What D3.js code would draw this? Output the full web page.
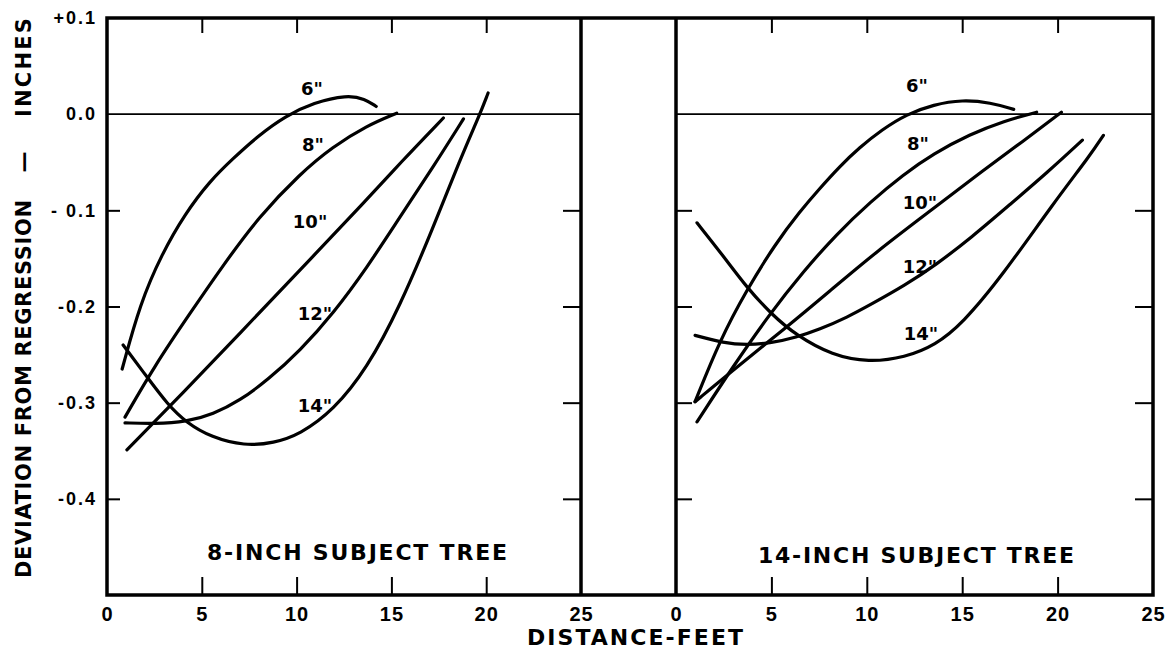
<!DOCTYPE html>
<html>
<head>
<meta charset="utf-8">
<script src="https://cdn.jsdelivr.net/npm/d3@7"></script>
<style>
  body { margin: 0; background: #fff; }
  svg { display: block; font-family: "DejaVu Sans", Verdana, sans-serif; font-weight: bold; }
  svg text { fill: #000; }
</style>
</head>
<body>
<svg id="chart" width="1176" height="651"></svg>
<script>
// axis ticks
var xTicks = [0, 5, 10, 15, 20, 25];
var xInnerTicks = [5, 10, 15, 20];
var yTicks = [0.1, 0, -0.1, -0.2, -0.3, -0.4];
var yTickLabels = ['+0.1', '0.0', '- 0.1', '-0.2', '-0.3', '-0.4'];
var yInnerTicks = [-0.1, -0.2, -0.3, -0.4];

var sizeLabels = ['6"', '8"', '10"', '12"', '14"'];
var panelTitles = ['8-INCH SUBJECT TREE', '14-INCH SUBJECT TREE'];

// 8-inch subject tree: [distance ft, deviation in]
var tree8_6 = [[0.8,-0.265],[1.74,-0.197],[2.9,-0.145],[4.1,-0.104],[5.4,-0.07],[6.65,-0.046],[8.0,-0.022],[9.4,-0.002],[10.9,0.012],[12.66,0.02],[13.6,0.016],[14.2,0.008]];
var tree8_8 = [[0.95,-0.315],[2.5,-0.262],[4.38,-0.207],[6.2,-0.155],[8.0,-0.107],[10.18,-0.062],[11.9,-0.034],[13.7,-0.012],[15.28,0.001]];
var tree8_10 = [[1.05,-0.349],[4,-0.29],[7,-0.228],[10.18,-0.162],[13.7,-0.089],[15.45,-0.051],[17.74,-0.004]];
var tree8_12 = [[0.95,-0.321],[2.5,-0.322],[4.2,-0.32],[5.6,-0.312],[7.0,-0.298],[8.5,-0.276],[10.18,-0.246],[11.94,-0.207],[13.7,-0.16],[15.45,-0.107],[17.2,-0.055],[18.8,-0.005]];
var tree8_14 = [[0.85,-0.24],[2.1,-0.273],[3.2,-0.302],[4.2,-0.321],[5.5,-0.336],[7.25,-0.345],[8.8,-0.342],[10.18,-0.333],[11.94,-0.308],[13.7,-0.265],[15.45,-0.2],[17.2,-0.118],[18.6,-0.048],[19.67,0],[20.1,0.022]];

// 14-inch subject tree
var tree14_6 = [[1.0,-0.299],[2.3,-0.235],[3.7,-0.183],[5.2,-0.135],[6.5,-0.101],[7.5,-0.078],[8.6,-0.054],[9.6,-0.035],[10.8,-0.016],[12.1,0],[13.5,0.01],[15,0.015],[16.5,0.012],[17.7,0.005]];
var tree14_8 = [[1.1,-0.32],[3,-0.262],[4.9,-0.208],[6.7,-0.163],[8.4,-0.125],[10.2,-0.091],[11.9,-0.063],[13.5,-0.041],[15.4,-0.021],[17.2,-0.007],[18.9,0.002]];
var tree14_10 = [[1.0,-0.299],[3,-0.266],[5.77,-0.222],[8,-0.185],[10.5,-0.143],[13.5,-0.098],[16,-0.06],[18.2,-0.028],[20.2,0.002]];
var tree14_12 = [[1.0,-0.23],[2.5,-0.238],[3.7,-0.24],[5,-0.238],[6.3,-0.232],[7.5,-0.224],[9,-0.211],[10.2,-0.198],[12,-0.178],[13.6,-0.157],[15.5,-0.128],[17.5,-0.094],[19.5,-0.06],[21.3,-0.027]];
var tree14_14 = [[1.1,-0.113],[2.5,-0.148],[3.7,-0.18],[5.0,-0.208],[6.3,-0.23],[8.2,-0.251],[10.1,-0.258],[12,-0.253],[13.6,-0.24],[15,-0.218],[17.1,-0.168],[19.8,-0.092],[21.7,-0.043],[22.4,-0.022]];

// where the size labels sit, in data units
var labelAt8 = [[10.81,0.027],[10.86,-0.032],[10.71,-0.112],[10.97,-0.207],[10.97,-0.303]];
var labelAt14 = [[12.63,0.030],[12.68,-0.031],[12.79,-0.092],[12.79,-0.158],[12.84,-0.228]];

var svg = d3.select('#chart');
var plotTop = 18, plotBottom = 595;

var y = d3.scaleLinear().domain([-0.5, 0.1]).range([plotBottom, plotTop]);

var panels = [
  { left: 107, right: 581, curves: [tree8_6, tree8_8, tree8_10, tree8_12, tree8_14], labels: labelAt8, title: panelTitles[0], titleX: 357, titleW: 300, titleY: 560 },
  { left: 676, right: 1153, curves: [tree14_6, tree14_8, tree14_10, tree14_12, tree14_14], labels: labelAt14, title: panelTitles[1], titleX: 916, titleW: 316, titleY: 563 }
];

function drawPanel(p, i) {
  var x = d3.scaleLinear().domain([0, 25]).range([p.left, p.right]);
  var g = svg.append('g');

  // zero line
  g.append('line')
    .attr('x1', x(0)).attr('x2', x(25))
    .attr('y1', y(0)).attr('y2', y(0))
    .attr('stroke', '#000').attr('stroke-width', 1.7);

  // bottom axis with labels, ticks point inward
  var bAxis = g.append('g')
    .attr('transform', 'translate(0,' + plotBottom + ')')
    .call(d3.axisBottom(x).tickValues(xTicks).tickSizeInner(-18).tickSizeOuter(0).tickPadding(12));
  bAxis.select('.domain').remove();
  bAxis.selectAll('.tick line').filter(function(d) { return d === 0 || d === 25; }).remove();
  bAxis.selectAll('.tick line').attr('stroke-width', 2);
  bAxis.selectAll('text').attr('font-size', 20).attr('font-weight', 'bold').attr('letter-spacing', 1);

  // top ticks
  var tAxis = g.append('g')
    .attr('transform', 'translate(0,' + plotTop + ')')
    .call(d3.axisTop(x).tickValues(xInnerTicks).tickSizeInner(-15).tickSizeOuter(0).tickFormat(''));
  tAxis.select('.domain').remove();
  tAxis.selectAll('.tick line').attr('stroke-width', 2);

  // side ticks
  var lAxis = g.append('g')
    .attr('transform', 'translate(' + p.left + ',0)')
    .call(d3.axisLeft(y).tickValues(yInnerTicks).tickSizeInner(i === 0 ? -13 : -16).tickSizeOuter(0).tickFormat(''));
  lAxis.select('.domain').remove();
  lAxis.selectAll('.tick line').attr('stroke-width', 2);
  var rAxis = g.append('g')
    .attr('transform', 'translate(' + p.right + ',0)')
    .call(d3.axisRight(y).tickValues(yInnerTicks).tickSizeInner(-18).tickSizeOuter(0).tickFormat(''));
  rAxis.select('.domain').remove();
  rAxis.selectAll('.tick line').attr('stroke-width', 2);

  // curves, smoothed like the hand-drawn originals
  var line = d3.line()
    .x(function(d) { return x(d[0]); })
    .y(function(d) { return y(d[1]); })
    .curve(d3.curveBasis);
  g.selectAll('path.curve')
    .data(p.curves)
    .enter().append('path')
    .attr('class', 'curve')
    .attr('d', line)
    .attr('fill', 'none')
    .attr('stroke', '#000')
    .attr('stroke-width', 3.2)
    .attr('stroke-linecap', 'round')
    .attr('stroke-linejoin', 'round');

  // size labels
  g.selectAll('text.size')
    .data(p.labels)
    .enter().append('text')
    .attr('class', 'size')
    .attr('x', function(d) { return x(d[0]); })
    .attr('y', function(d) { return y(d[1]); })
    .attr('dy', '0.36em')
    .attr('text-anchor', 'middle')
    .attr('font-size', 18)
    .text(function(d, k) { return sizeLabels[k]; });

  // panel title
  g.append('text')
    .attr('x', p.titleX - p.titleW / 2)
    .attr('y', p.titleY)
    .attr('font-size', 22)
    .attr('textLength', p.titleW)
    .attr('lengthAdjust', 'spacing')
    .text(p.title);
}

panels.forEach(drawPanel);

// y axis labels on the far left
var yAxis = svg.append('g')
  .attr('transform', 'translate(107,0)')
  .call(d3.axisLeft(y).tickValues(yTicks).tickSize(0).tickPadding(10)
    .tickFormat(function(d, i) { return yTickLabels[i]; }));
yAxis.select('.domain').remove();
yAxis.selectAll('text').attr('font-size', 18).attr('font-weight', 'bold').attr('letter-spacing', 2);

// frame: outer box plus the two dividers of the middle strip
var frame = svg.append('g').attr('stroke', '#000').attr('fill', 'none');
frame.append('path')
  .attr('d', 'M107,' + plotTop + 'H1153V' + plotBottom + 'H107Z')
  .attr('stroke-width', 3.5);
[581, 676].forEach(function(px) {
  frame.append('line')
    .attr('x1', px).attr('x2', px).attr('y1', plotTop).attr('y2', plotBottom)
    .attr('stroke-width', 3.5);
});

// axis titles
svg.append('text')
  .attr('x', 527).attr('y', 645)
  .attr('font-size', 22)
  .attr('textLength', 216)
  .attr('lengthAdjust', 'spacing')
  .text('DISTANCE-FEET');

function yTitle(txt, cy, len) {
  svg.append('text')
    .attr('transform', 'translate(23.5,' + cy + ') rotate(-90)')
    .attr('text-anchor', 'middle')
    .attr('dy', '0.36em')
    .attr('font-size', 21)
    .attr('textLength', len)
    .attr('lengthAdjust', 'spacing')
    .text(txt);
}
yTitle('DEVIATION FROM REGRESSION', 389, 378);
yTitle('\u2014', 162, 21);
yTitle('INCHES', 67.5, 99);
</script>
</body>
</html>
